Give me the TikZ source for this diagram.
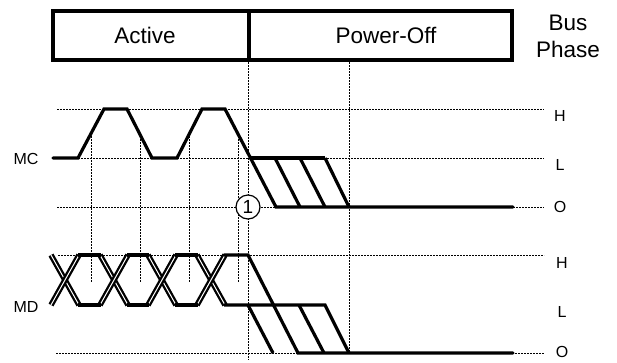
\documentclass[tikz,border=0pt]{standalone}
\usepackage{fontspec}
\setmainfont{Liberation Sans}
\begin{document}
\begin{tikzpicture}[x=1pt,y=-1pt,
  sig/.style={line width=3.2pt, line join=miter},
  grd/.style={line width=0.9pt, dash pattern=on 1.8pt off 1.2pt},
  big/.style={font=\fontsize{22.5}{25}\selectfont, inner sep=0pt},
  lbl/.style={font=\fontsize{16}{18}\selectfont, inner sep=0pt},
  lvl/.style={font=\fontsize{16}{18}\selectfont, inner sep=0pt},
  dbl/.style={line width=2.3pt, double, double distance=1pt}
]
\useasboundingbox (0,0) rectangle (617,362);
% phase box
\draw[line width=3.5pt] (53,11) rectangle (512,60);
\draw[line width=3.5pt] (249,11) -- (249,60);
\node[big] (active) at (145,35) {Active};
\node[big] (poweroff) at (386,35) {Power-Off};
\node[big] (bus) at (568,23) {Bus};
\node[big] (phase) at (568,49) {Phase};
% grid
\draw[grd] (57,109) -- (544,109);
\draw[grd] (57,158) -- (544,158);
\draw[grd] (57,207) -- (544,207);
\draw[grd] (58,255) -- (544,255);
\draw[grd] (56,353) -- (544,353);
\draw[grd] (248,62) -- (248,360);
\draw[grd] (349,62) -- (349,353);
\foreach \x in {91,140,189,238} \draw[grd] (\x,133) -- (\x,282);
% MC
\draw[sig, line cap=round] (53,158) -- (78,158) -- (104,109) -- (127,109) -- (152,158) -- (177,158) -- (202,109) -- (225,109) -- (276,207) -- (513,207);
\draw[sig] (250,158) -- (325,158);
\draw[sig] (275,158) -- (300,207);
\draw[sig] (300,158) -- (325,207);
\draw[sig] (325,158) -- (349,207);
% MD
\foreach \c in {65,114,162,211} {
  \draw[dbl] (\c-14,255) -- (\c+14,305);
  \draw[dbl] (\c-14,305) -- (\c+14,255);
}
\draw[sig] (78,255) -- (101,255);
\draw[sig] (127,255) -- (149,255);
\draw[sig] (175,255) -- (198,255);
\draw[sig] (78,305) -- (101,305);
\draw[sig] (127,305) -- (149,305);
\draw[sig] (175,305) -- (198,305);
\draw[sig, line cap=round] (224,255) -- (248,255) -- (298,353) -- (513,353);
\draw[sig] (224,305) -- (325,305) -- (349,353);
\draw[sig] (248,305) -- (273,353);
\draw[sig] (299,305) -- (324,353);
% marker
\node[circle, draw, line width=1.2pt, fill=white, minimum size=24pt, inner sep=0pt, font=\fontsize{19}{21}\selectfont] (one) at (248,207) {1};
% labels
\node[lbl] (mc) at (26,159) {MC};
\node[lbl] (md) at (26,307) {MD};
\node[lvl] (h1) at (560,116) {H};
\node[lvl] (l1) at (560,165) {L};
\node[lvl] (o1) at (560,207) {O};
\node[lvl] (h2) at (562,263) {H};
\node[lvl] (l2) at (562,312) {L};
\node[lvl] (o2) at (562,352) {O};
\end{tikzpicture}
\end{document}
